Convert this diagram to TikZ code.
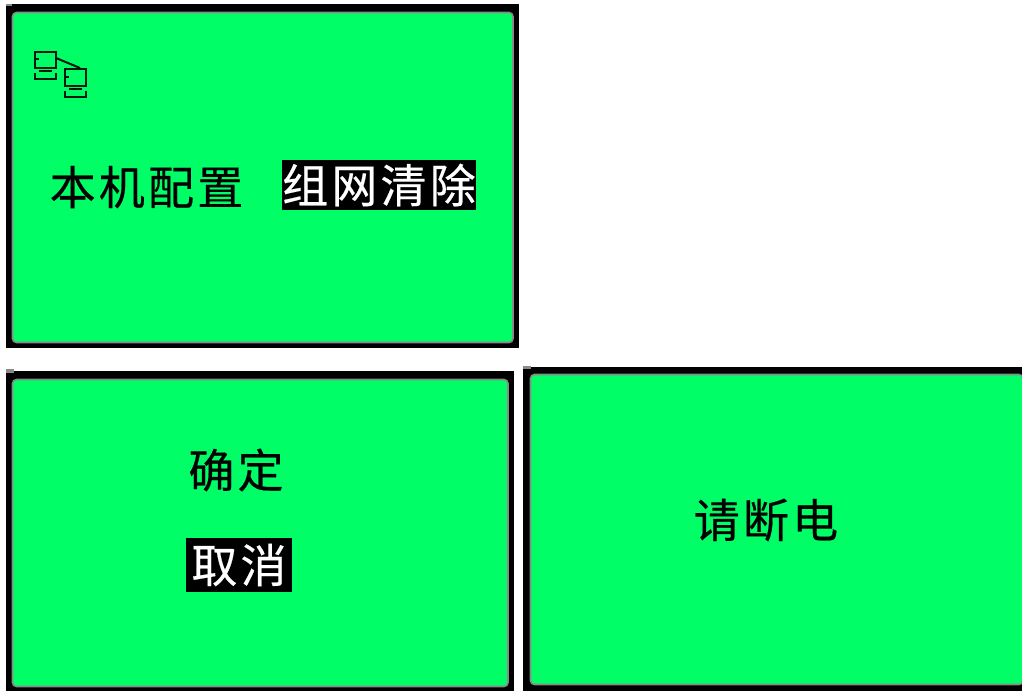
\documentclass[tikz,border=0pt]{standalone}
\usepackage{fontspec}
\newfontfamily\cjk[LetterSpace=7,FakeBold=0.4]{Noto Sans CJK SC}
\definecolor{lcdgreen}{HTML}{00FF66}
\definecolor{edgegray}{HTML}{8A8A8A}
\tikzset{
  frameblack/.style={fill=black,draw=none},
  screen/.style={fill=lcdgreen,draw=edgegray,line width=1.6pt,rounded corners=4pt},
  captext/.style={inner sep=0pt,text=black,font=\cjk\fontsize{46}{46}\selectfont},
  capinv/.style={captext,text=white,fill=black,minimum height=50pt},
  iconline/.style={draw=black!90!lcdgreen,line width=2pt}
}
\begin{document}
\begin{tikzpicture}[x=1pt,y=-1pt]
\useasboundingbox (0,0) rectangle (1022,691);
% panel 1
\fill[frameblack] (6,4) rectangle (519,348);
\fill[edgegray] (6,4) rectangle (12,6);
\draw[screen] (12.5,12.5) rectangle (513,342.5);
% panel 2
\fill[frameblack] (6,371) rectangle (514,691);
\fill[edgegray] (6,369) rectangle (14,373);
\draw[screen] (12.5,379.5) rectangle (508,686.5);
% panel 3
\fill[frameblack] (523,367) rectangle (1022,691);
\fill[edgegray] (523,366) rectangle (531,369);
\draw[screen] (530.5,374.5) rectangle (1023,684.5);
% icon
\draw[iconline] (34.5,51.5) rectangle (55.5,67.5);
\draw[iconline] (34.5,59) -- (39,59);
\draw[iconline] (39,71) -- (52,71);
\draw[iconline] (34.5,73) -- (34.5,79) -- (55.5,79) -- (55.5,73);
\draw[iconline] (64.5,69) rectangle (85.5,86);
\draw[iconline] (64.5,77) -- (69,77);
\draw[iconline] (69,89) -- (82,89);
\draw[iconline] (64.5,91) -- (64.5,97) -- (85.5,97) -- (85.5,91);
\draw[iconline] (56,58) -- (80,68);
% texts
\node[captext] (a) at (146.5,187) {本机配置};
\node[capinv,minimum width=192pt] (b) at (379,185) {组网清除};
\node[captext] (c) at (236,470) {确定};
\node[capinv,minimum width=106pt,minimum height=54pt] (d) at (239,565) {取消};
\node[captext] (e) at (766,520) {请断电};
\end{tikzpicture}
\end{document}
